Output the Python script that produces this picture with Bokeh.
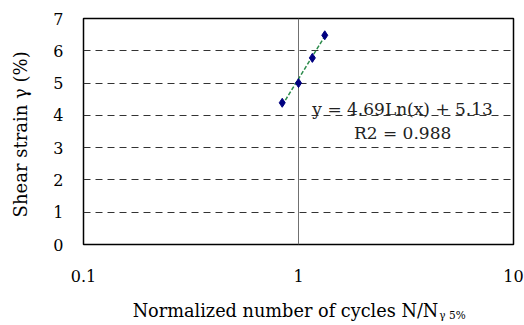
import numpy as np
from bokeh.plotting import figure
from bokeh.models import FixedTicker, Range1d, LinearAxis, LinearScale, Label
from bokeh.embed import file_html
from bokeh.resources import INLINE

# data
n_ratio = [0.84, 1.0, 1.16, 1.325]
strain = [4.39, 5.0, 5.78, 6.48]
fit_a = 4.69
fit_b = 5.13
r2 = 0.988
x_ticks = [0.1, 1, 10]
y_ticks = [0, 1, 2, 3, 4, 5, 6, 7]
x_title = "Normalized number of cycles N/N"
x_title_sub = "γ 5%"
y_title = "Shear strain γ  (%)"

FONT = "DejaVu Serif"

p = figure(width=524, height=325, x_axis_type="log",
           x_range=Range1d(0.1, 10), y_range=Range1d(0, 7),
           output_backend="svg", toolbar_location=None,
           min_border_left=83, min_border_right=11,
           min_border_top=18, min_border_bottom=81)
p.background_fill_color = "white"
p.border_fill_color = "white"
p.outline_line_color = "black"
p.outline_line_width = 1.5

# grids
p.ygrid.ticker = FixedTicker(ticks=y_ticks)
p.ygrid.grid_line_color = "#333333"
p.ygrid.grid_line_dash = "7 5"
p.ygrid.grid_line_width = 1
p.xgrid.ticker = FixedTicker(ticks=x_ticks)
p.xgrid.grid_line_color = "#707070"
p.xgrid.grid_line_width = 1


def style_axis(ax, size):
    ax.axis_line_color = None
    ax.major_tick_line_color = None
    ax.minor_tick_line_color = None
    ax.major_tick_out = 0
    ax.major_tick_in = 0
    ax.minor_tick_out = 0
    ax.minor_tick_in = 0
    ax.major_label_text_font = FONT
    ax.major_label_text_font_size = size
    ax.major_label_text_color = "black"
    ax.axis_label_text_font = FONT
    ax.axis_label_text_font_style = "normal"
    ax.axis_label_text_color = "black"


style_axis(p.xaxis[0], "16px")
style_axis(p.yaxis[0], "16px")

p.xaxis[0].ticker = FixedTicker(ticks=x_ticks)
p.xaxis[0].major_label_overrides = {0.1: "0.1", 1: "1", 10: "10"}
p.xaxis[0].major_label_standoff = 25
p.yaxis[0].ticker = FixedTicker(ticks=y_ticks)
p.yaxis[0].major_label_standoff = 20
p.yaxis[0].axis_label = y_title
p.yaxis[0].axis_label_text_font_size = "18px"
p.yaxis[0].axis_label_standoff = 19

# x-axis title with subscript, set as labels of two helper axes
p.extra_x_ranges = {"title": Range1d(83, 513)}
p.extra_x_scales = {"title": LinearScale()}
ax_a = LinearAxis(x_range_name="title")
style_axis(ax_a, "17.7px")
ax_a.ticker = FixedTicker(ticks=[285])
ax_a.major_label_overrides = {285: x_title}
ax_a.major_label_standoff = 16
p.add_layout(ax_a, "below")

ax_b = LinearAxis(x_range_name="title")
style_axis(ax_b, "10.5px")
ax_b.ticker = FixedTicker(ticks=[452])
ax_b.major_label_overrides = {452: x_title_sub}
ax_b.major_label_standoff = -15
p.add_layout(ax_b, "below")

# trendline from fitted equation
xs = np.linspace(min(n_ratio), max(n_ratio), 30)
p.line(xs, fit_a * np.log(xs) + fit_b, line_color="#2a8a4a",
       line_width=1.5, line_dash="4 2")

p.scatter(n_ratio, strain, marker="diamond", size=9,
          fill_color="#000080", line_color="#000080")

p.add_layout(Label(x=3.05, y=4.2, text=f"y = {fit_a}Ln(x) + {fit_b}",
                   text_align="center", text_baseline="middle",
                   text_font=FONT, text_font_size="17px", text_color="#222222"))
p.add_layout(Label(x=3.05, y=3.45, text=f"R2 = {r2}",
                   text_align="center", text_baseline="middle",
                   text_font=FONT, text_font_size="17px", text_color="#222222"))

open("out.html", "w").write(file_html(p, INLINE))
